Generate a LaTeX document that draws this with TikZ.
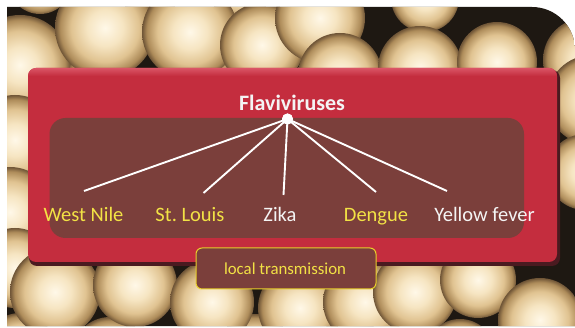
\documentclass[tikz,border=0pt]{standalone}
\usepackage{fontspec}
\setmainfont{Carlito}
\definecolor{ballA}{HTML}{FFF8E8}
\definecolor{ballB}{HTML}{F6E5C2}
\definecolor{ballC}{HTML}{E0C391}
\definecolor{ballD}{HTML}{AE8C5A}
\definecolor{ballE}{HTML}{6E5436}
\definecolor{bgdark}{HTML}{1E1812}
\definecolor{boxred}{HTML}{C42D3E}
\definecolor{boxredhi}{HTML}{DA5566}
\definecolor{boxshadow}{HTML}{4A1A20}
\definecolor{innerbrown}{HTML}{7B3F3B}
\definecolor{txtyellow}{HTML}{F2E245}
\definecolor{txtwhite}{HTML}{F4F4F4}
\definecolor{edgeyellow}{HTML}{E8CF2A}
\pgfdeclareradialshading{ball}{\pgfpoint{0bp}{0bp}}{color(0bp)=(ballA); color(9bp)=(ballB); color(17bp)=(ballC); color(22.5bp)=(ballD); color(25bp)=(ballE); color(50bp)=(ballE)}
\begin{document}
\begin{tikzpicture}[x=1pt,y=-1pt,
  title/.style={font=\bfseries\fontsize{22}{24}\selectfont, text=txtwhite, anchor=base, inner sep=0pt},
  leaf/.style={font=\fontsize{20.5}{22}\selectfont, anchor=base, inner sep=0pt},
  yleaf/.style={leaf, text=txtyellow},
  wleaf/.style={leaf, text=txtwhite},
  hubdot/.style={circle, fill=white, minimum size=11pt, inner sep=0pt},
  branch/.style={white, line width=1.9pt},
  tagbox/.style={rounded corners=6pt, fill=innerbrown, draw=edgeyellow, line width=1pt}
]
\useasboundingbox (0,0) rectangle (575,328);
\fill[white] (0,0) rectangle (575,328);
% background photo of spheres
\begin{scope}
  \clip (7,326) -- (7,7) -- (532,7) .. controls (555.7,7) and (575,26.3) .. (575,50) -- (575,326) -- cycle;
  \fill[bgdark] (0,0) rectangle (575,328);
  \foreach \cx/\cy/\r in {20/348/35, 110/355/38, 255/352/38, 350/352/35, 460/354/35,
      425/-2/34, 240/-12/32, 40/-18/32, 150/-10/30,
      100/90/40, 225/95/35,
      20/65/50, 105/28/50, 190/32/48, 262/45/42, 320/18/45, 340/75/42, 420/68/42, 497/62/40, 585/60/42,
      15/140/45, 10/212/45, 15/268/40,
      592/100/45, 585/172/38,
      55/292/45, 135/285/42, 212/302/42, 300/308/42, 365/302/42, 415/292/42, 478/280/38, 540/320/42}
    \shade[shading=ball] (\cx,\cy) circle (\r);
\end{scope}
% red panel
\fill[boxshadow, rounded corners=8pt] (29,70) rectangle (560,266);
\fill[boxred, rounded corners=8pt] (28,68) rectangle (557,262);
\begin{scope}
  \clip[rounded corners=8pt] (28,68) rectangle (557,262);
  \shade[top color=boxredhi, bottom color=boxred] (28,68) rectangle (557,76);
\end{scope}
\fill[innerbrown, rounded corners=16pt] (49.5,118) rectangle (524,238);
% tree
\node[title] (fl) at (292,110.5) {Flaviviruses};
\coordinate (e1) at (84,191);
\coordinate (e2) at (203.5,193);
\coordinate (e3) at (283.5,195);
\coordinate (e4) at (376,192);
\coordinate (e5) at (447,191);
\node[hubdot] (hub) at (287.5,119) {};
\foreach \e in {e1,e2,e3,e4,e5} \draw[branch] (hub.center) -- (\e);
\node[hubdot] at (hub) {};
\node[yleaf] (wn) at (83.5,222) {West Nile};
\node[yleaf] (sl) at (190,222) {St.\ Louis};
\node[wleaf] (zk) at (280,222) {Zika};
\node[yleaf] (dg) at (376,222) {Dengue};
\node[wleaf] (yf) at (484.5,222) {Yellow fever};
% local transmission tag
\draw[tagbox] (196,248) rectangle (376,289);
\node[font=\fontsize{16.8}{18}\selectfont, text=txtyellow, anchor=base, inner sep=0pt] (lt) at (285,275) {local transmission};
\end{tikzpicture}
\end{document}
